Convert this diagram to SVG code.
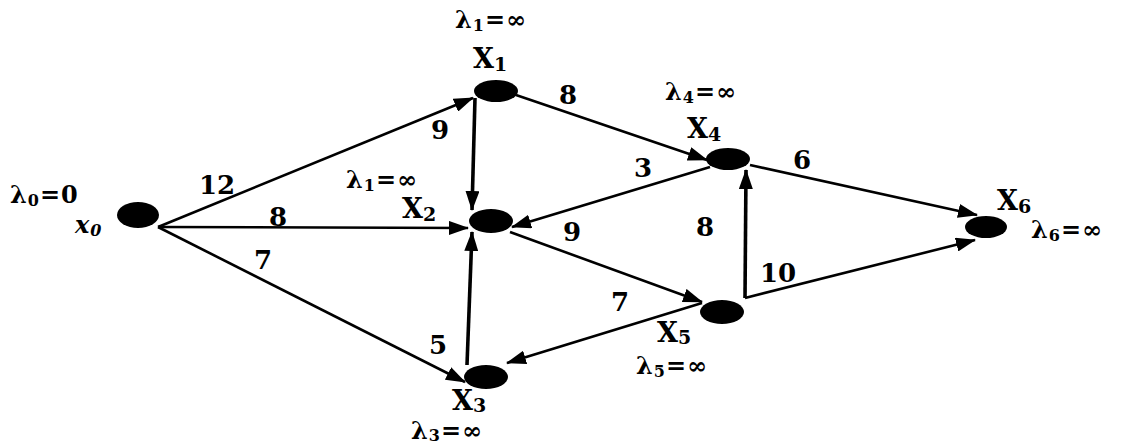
<svg xmlns="http://www.w3.org/2000/svg" width="1130" height="448" viewBox="0 0 1130 448">
<style>
.edge{stroke:#000;stroke-width:2.6;fill:none;marker-end:url(#ah)}
.thick{stroke-width:3.6}
.node{fill:#000}
.w{font-family:"DejaVu Serif","Liberation Serif",serif;font-weight:bold;font-size:26px;text-anchor:middle;fill:#000}
.lab{font-family:"DejaVu Serif","Liberation Serif",serif;font-weight:bold;font-size:24px;letter-spacing:1px;fill:#000}
.xl{font-family:"DejaVu Serif","Liberation Serif",serif;font-weight:bold;font-size:27px;fill:#000}
.sub{font-size:16px}
.xsub{font-size:19px}
</style>
<defs>
<marker id="ah" markerUnits="userSpaceOnUse" markerWidth="20" markerHeight="14" refX="19" refY="7" orient="auto">
<path d="M0,0 L20,7 L0,14 z" fill="#000"/>
</marker>
</defs>
<rect width="1130" height="448" fill="#fff"/>
<g id="connectors">
<line class="edge" x1="158" y1="227" x2="473" y2="98"/>
<line class="edge" x1="158" y1="227" x2="468" y2="228"/>
<line class="edge" x1="158" y1="227" x2="465" y2="382"/>
<line class="edge thick" x1="475" y1="98" x2="472" y2="210"/>
<line class="edge" x1="516" y1="95" x2="707" y2="160"/>
<line class="edge" x1="710" y1="167" x2="512" y2="227"/>
<line class="edge" x1="510" y1="232" x2="702" y2="302"/>
<line class="edge" x1="702" y1="303" x2="507" y2="363"/>
<line class="edge thick" x1="467" y1="365" x2="472" y2="232"/>
<line class="edge thick" x1="745" y1="298" x2="746" y2="170"/>
<line class="edge" x1="750" y1="165" x2="977" y2="215"/>
<line class="edge" x1="745" y1="298" x2="975" y2="240"/>
<text class="w" x="217" y="194">12</text>
<text class="w" x="278" y="226">8</text>
<text class="w" x="263" y="269">7</text>
<text class="w" x="440" y="139">9</text>
<text class="w" x="568" y="104">8</text>
<text class="w" x="643" y="177">3</text>
<text class="w" x="572" y="241">9</text>
<text class="w" x="620" y="311">7</text>
<text class="w" x="438" y="354">5</text>
<text class="w" x="705" y="236">8</text>
<text class="w" x="778" y="282">10</text>
<text class="w" x="802" y="169">6</text>
</g>
<g id="x0">
<ellipse class="node" cx="138" cy="215" rx="21" ry="13"/>
<text class="lab" x="10" y="203">λ<tspan class="sub" dy="3">0</tspan><tspan dy="-3">=0</tspan></text>
<text class="lab" x="75" y="233" font-style="italic">x<tspan class="sub" dy="3">0</tspan></text>
</g>
<g id="X1">
<ellipse class="node" cx="496" cy="91" rx="22" ry="11"/>
<text class="lab" x="455" y="28">λ<tspan class="sub" dy="3">1</tspan><tspan dy="-3">=∞</tspan></text>
<text class="xl" x="473" y="68">X<tspan class="xsub" dy="3">1</tspan></text>
</g>
<g id="X2">
<ellipse class="node" cx="491" cy="221" rx="22" ry="12"/>
<text class="lab" x="346" y="188">λ<tspan class="sub" dy="3">1</tspan><tspan dy="-3">=∞</tspan></text>
<text class="xl" x="402" y="218">X<tspan class="xsub" dy="3">2</tspan></text>
</g>
<g id="X3">
<ellipse class="node" cx="486" cy="377" rx="22" ry="12"/>
<text class="xl" x="452" y="410">X<tspan class="xsub" dy="2">3</tspan></text>
<text class="lab" x="411" y="439">λ<tspan class="sub" dy="2">3</tspan><tspan dy="-2">=∞</tspan></text>
</g>
<g id="X4">
<ellipse class="node" cx="728" cy="159" rx="22" ry="11"/>
<text class="lab" x="665" y="100">λ<tspan class="sub" dy="3">4</tspan><tspan dy="-3">=∞</tspan></text>
<text class="xl" x="687" y="138">X<tspan class="xsub" dy="3">4</tspan></text>
</g>
<g id="X5">
<ellipse class="node" cx="722" cy="312" rx="22" ry="12"/>
<text class="xl" x="657" y="342">X<tspan class="xsub" dy="2">5</tspan></text>
<text class="lab" x="636" y="374">λ<tspan class="sub" dy="3">5</tspan><tspan dy="-3">=∞</tspan></text>
</g>
<g id="X6">
<ellipse class="node" cx="986" cy="227" rx="21" ry="11"/>
<text class="xl" x="997" y="210">X<tspan class="xsub" dy="3">6</tspan></text>
<text class="lab" x="1031" y="238">λ<tspan class="sub" dy="3">6</tspan><tspan dy="-3">=∞</tspan></text>
</g>
</svg>
